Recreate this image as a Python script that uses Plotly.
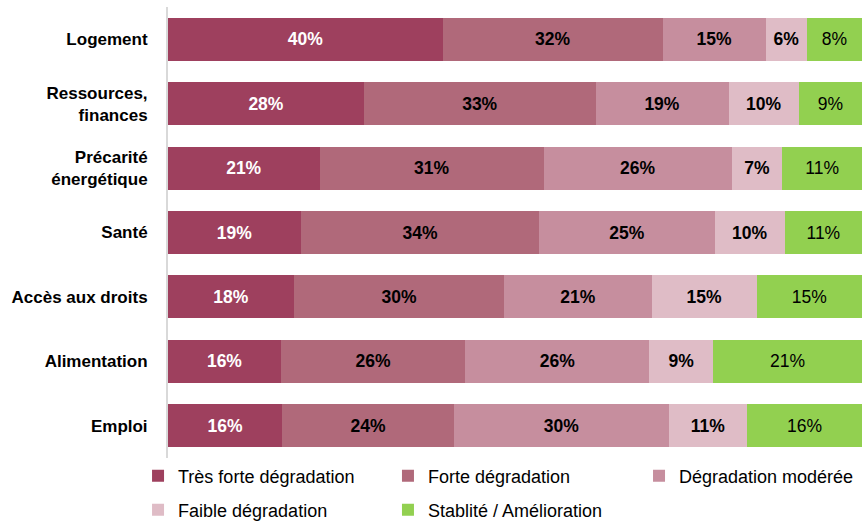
import plotly.graph_objects as go

categories = ["Logement", "Ressources,<br>finances", "Précarité<br>énergétique", "Santé",
              "Accès aux droits", "Alimentation", "Emploi"]
series_names = ["Très forte dégradation", "Forte dégradation", "Dégradation modérée",
                "Faible dégradation", "Stablité / Amélioration"]
tres_forte = [40, 28, 21, 19, 18, 16, 16]
forte = [32, 33, 31, 34, 30, 26, 24]
moderee = [15, 19, 26, 25, 21, 26, 30]
faible = [6, 10, 7, 10, 15, 9, 11]
stable = [8, 9, 11, 11, 15, 21, 16]

series_values = [tres_forte, forte, moderee, faible, stable]
colors = ["#9E405E", "#B0697A", "#C68E9E", "#DFBCC6", "#92D050"]
text_colors = ["#FFFFFF", "#000000", "#000000", "#000000", "#000000"]
bold = [True, True, True, True, False]

FONT = "Liberation Sans, Arial, sans-serif"

# legend placement (container fractions): one legend per series
legend_pos = [(0.1594, 0.0864), (0.4480, 0.0864), (0.7379, 0.0864),
              (0.1594, 0.0211), (0.4480, 0.0211)]

fig = go.Figure()
for i, (name, vals, col, tcol, b) in enumerate(zip(series_names, series_values, colors, text_colors, bold)):
    txt = [f"<b>{v}%</b>" if b else f"{v}%" for v in vals]
    fig.add_trace(go.Bar(
        y=categories, x=vals, name=name, orientation="h",
        marker=dict(color=col, line=dict(width=0)),
        text=txt, textposition="inside", insidetextanchor="middle",
        textfont=dict(color=tcol, size=17.5, family=FONT),
        textangle=0, constraintext="none", cliponaxis=False,
        legend="legend" if i == 0 else f"legend{i+1}",
    ))

legends = {}
for i, (lx, ly) in enumerate(legend_pos):
    key = "legend" if i == 0 else f"legend{i+1}"
    legends[key] = dict(orientation="h", xref="container", yref="container",
                        x=lx, y=ly, xanchor="left", yanchor="middle",
                        font=dict(size=18, family=FONT, color="#000000"),
                        itemwidth=30, bgcolor="rgba(0,0,0,0)")

fig.update_layout(
    barmode="stack", barnorm="percent", bargap=0.333,
    width=866, height=521,
    margin=dict(l=168, r=4, t=7, b=63, autoexpand=False),
    plot_bgcolor="white", paper_bgcolor="white",
    font=dict(family=FONT, color="#000000"),
    xaxis=dict(range=[0, 100.02], visible=False, fixedrange=True),
    yaxis=dict(autorange="reversed", showline=True, linecolor="#D9D9D9", linewidth=2,
               ticks="", ticklabelstandoff=15, fixedrange=True,
               tickfont=dict(size=17, family=FONT, color="#000000", weight="bold")),
    showlegend=True,
    **legends,
)

fig.write_html("out.html", config={"displayModeBar": False},
               post_script="document.body.style.margin='0';document.body.style.overflow='hidden';")
